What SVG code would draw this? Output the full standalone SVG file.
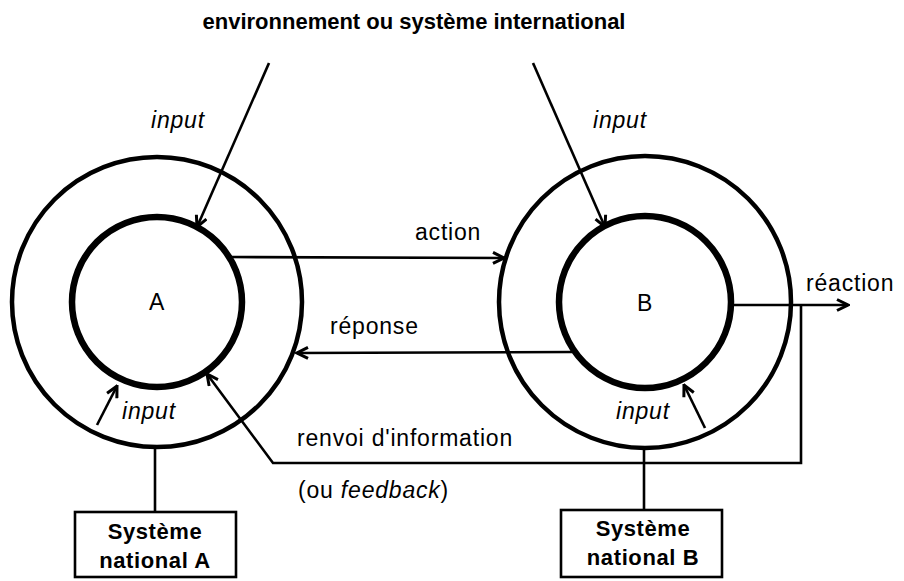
<svg xmlns="http://www.w3.org/2000/svg" width="904" height="581" viewBox="0 0 904 581">
<defs>
<marker id="ah" viewBox="0 0 14 14" refX="12.5" refY="7" markerWidth="14" markerHeight="14" markerUnits="userSpaceOnUse" orient="auto">
<path d="M1.5,1.5 L12.5,7 L1.5,12.5" fill="none" stroke="#000" stroke-width="3"/>
</marker>
<style>
.outer{fill:none;stroke:#000;stroke-width:4.5}
.inner{fill:none;stroke:#000;stroke-width:6.5}
.ln{fill:none;stroke:#000;stroke-width:2.6}
.arr{fill:none;stroke:#000;stroke-width:2.6;marker-end:url(#ah)}
.t{font-family:"Liberation Sans",Arial,sans-serif;font-size:23px;letter-spacing:0.8px;fill:#000}
.it{font-style:italic}
.b{font-weight:bold;font-size:22px;letter-spacing:0.6px}
.box{fill:#fff;stroke:#000;stroke-width:2.6}
</style>
</defs>
<rect width="904" height="581" fill="#fff"/>
<text class="t b" x="414" y="29" text-anchor="middle" style="letter-spacing:0">environnement ou système international</text>

<g id="nodeA">
<circle class="outer" cx="157" cy="302" r="145"/>
<circle class="inner" cx="157" cy="302" r="85"/>
<text class="t" x="157" y="310" text-anchor="middle">A</text>
</g>
<g id="nodeB">
<circle class="outer" cx="645" cy="302" r="146"/>
<circle class="inner" cx="645" cy="302" r="86"/>
<text class="t" x="645" y="311" text-anchor="middle">B</text>
</g>
<g id="boxA">
<rect class="box" x="75" y="512" width="161" height="65"/>
<text class="t b" x="155" y="539" text-anchor="middle">Système</text>
<text class="t b" x="155" y="568" text-anchor="middle">national A</text>
</g>
<g id="boxB">
<rect class="box" x="561" y="510" width="161" height="67"/>
<text class="t b" x="643" y="536" text-anchor="middle">Système</text>
<text class="t b" x="643" y="565" text-anchor="middle">national B</text>
</g>

<g id="connectors">
<line class="arr" x1="269" y1="63" x2="197" y2="227"/>
<line class="arr" x1="533" y1="63" x2="605" y2="227"/>
<line class="arr" x1="97" y1="425" x2="117" y2="386"/>
<line class="arr" x1="705" y1="428" x2="684" y2="385"/>
<polyline class="arr" points="230,257 504,258"/>
<polyline class="arr" points="572,352 297,353"/>
<polyline class="arr" points="733,305 848,305"/>
<polyline class="arr" points="801,305 801,463 273,463 207,374"/>
<line class="ln" x1="155" y1="447" x2="155" y2="512"/>
<line class="ln" x1="644" y1="448" x2="644" y2="510"/>
</g>

<g id="labels">
<text class="t it" x="151" y="128">input</text>
<text class="t it" x="593" y="128">input</text>
<text class="t it" x="122" y="419">input</text>
<text class="t it" x="616" y="419">input</text>
<text class="t" x="415" y="240">action</text>
<text class="t" x="330" y="334">réponse</text>
<text class="t" x="806" y="291">réaction</text>
<text class="t" x="297" y="446">renvoi d'information</text>
<text class="t" x="298" y="498">(ou <tspan class="it">feedback</tspan>)</text>
</g>
</svg>
